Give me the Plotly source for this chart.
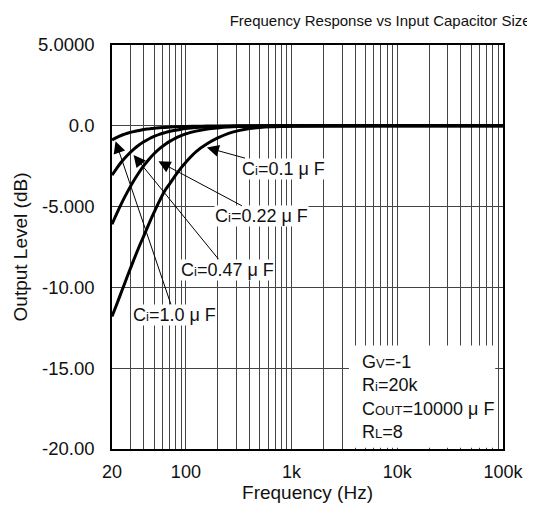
import math
import plotly.graph_objects as go

# Frequencies (Hz) at which the curves were read
freq = [20, 22, 25, 28, 32, 36, 40, 45, 50, 56, 63, 71, 80, 90, 100, 125, 160,
        200, 250, 315, 400, 500, 630, 800, 1000, 2000, 10000, 100000]

# Output level (dB) for each input capacitor
ci_1_0 = [-0.87, -0.73, -0.57, -0.46, -0.36, -0.29, -0.23, -0.19, -0.15, -0.12,
          -0.10, -0.08, -0.06, -0.05, -0.04, -0.03, -0.02, -0.01, -0.01, 0.0,
          0.0, 0.0, 0.0, 0.0, 0.0, 0.0, 0.0, 0.0]
ci_0_47 = [-3.05, -2.66, -2.18, -1.82, -1.46, -1.19, -0.99, -0.80, -0.66, -0.53,
           -0.43, -0.34, -0.27, -0.21, -0.17, -0.11, -0.07, -0.04, -0.03, -0.02,
           -0.01, -0.01, 0.0, 0.0, 0.0, 0.0, 0.0, 0.0]
ci_0_22 = [-6.09, -5.48, -4.71, -4.09, -3.42, -2.89, -2.47, -2.05, -1.73, -1.43,
           -1.17, -0.95, -0.76, -0.61, -0.50, -0.33, -0.20, -0.13, -0.08, -0.05,
           -0.03, -0.02, -0.01, -0.01, 0.0, 0.0, 0.0, 0.0]
ci_0_1 = [-11.8, -11.1, -10.15, -9.3, -8.33, -7.5, -6.81, -6.02, -5.36, -4.68,
          -4.04, -3.55, -3.05, -2.6, -2.25, -1.6, -1.1, -0.75, -0.48, -0.30,
          -0.17, -0.10, -0.06, -0.04, -0.03, -0.01, 0.0, 0.0]

series = [ci_1_0, ci_0_47, ci_0_22, ci_0_1]

# Curve labels: text, arrow tip (Hz, dB), label position (Hz, dB)
cap_labels = ["0.1", "0.22", "0.47", "1.0"]
tip_freq = [158, 55, 32, 21.6]
tip_db = [-1.35, -2.2, -1.8, -0.95]
lab_freq = [830, 520, 245, 78]
lab_db = [-2.65, -5.6, -8.9, -11.7]

x_tickvals = [20, 30, 40, 50, 60, 70, 80, 90,
              100, 200, 300, 400, 500, 600, 700, 800, 900,
              1000, 2000, 3000, 4000, 5000, 6000, 7000, 8000, 9000,
              10000, 20000, 30000, 40000, 50000, 60000, 70000, 80000, 90000,
              100000]
x_labels = {20: "20", 100: "100", 1000: "1k", 10000: "10k", 100000: "100k"}
x_ticktext = [x_labels.get(v, "") for v in x_tickvals]

y_tickvals = [5, 0, -5, -10, -15, -20]
y_ticktext = ["5.0000", "0.0", "-5.000", "-10.00", "-15.00", "-20.00"]

FONT = "Liberation Sans, Arial, sans-serif"
sm = "<span style='font-size:13px'>{}</span>"

fig = go.Figure()
for s in series:
    fig.add_trace(go.Scatter(x=freq, y=s, mode="lines",
                             line=dict(color="black", width=3, shape="spline"),
                             showlegend=False, hoverinfo="skip"))

fig.update_layout(
    width=535, height=508,
    margin=dict(l=101, r=40, t=37, b=67),
    paper_bgcolor="white", plot_bgcolor="white",
    font=dict(family=FONT, size=19, color="#111"),
    title=dict(text="Frequency Response vs Input Capacitor Size", x=0.977, xanchor="right",
               y=0.975, yanchor="middle", font=dict(size=15, color="#111")),
    xaxis=dict(type="log", range=[math.log10(20), 5.0], tickvals=x_tickvals, ticktext=x_ticktext,
               showgrid=True, gridcolor="#444", gridwidth=1, showline=True, linecolor="black",
               linewidth=1.5, mirror=True, ticks="", zeroline=False, ticklabelstandoff=6,
               title=dict(text="Frequency (Hz)", standoff=4, font=dict(size=19)),
               tickfont=dict(size=18)),
    yaxis=dict(range=[-20, 5], tickvals=y_tickvals, ticktext=y_ticktext,
               showgrid=True, gridcolor="#444", gridwidth=1, showline=True, linecolor="black",
               linewidth=1.5, mirror=True, ticks="", zeroline=False, ticklabelstandoff=12,
               title=dict(text="Output Level (dB)", standoff=5, font=dict(size=19)),
               tickfont=dict(size=18.5)),
)

# white box behind the circuit conditions text (hides the grid there)
fig.add_shape(type="rect", xref="paper", yref="paper", x0=0.606, x1=0.98, y0=0.003, y1=0.256,
              fillcolor="white", line=dict(width=0), layer="above")

for lab, tf, td, lf, ld in zip(cap_labels, tip_freq, tip_db, lab_freq, lab_db):
    fig.add_annotation(
        x=math.log10(tf), y=td, xref="x", yref="y",
        ax=math.log10(lf), ay=ld, axref="x", ayref="y",
        text="C" + sm.format("i") + "=" + lab + " \u03bc F",
        showarrow=True, arrowhead=2, arrowsize=2.4, arrowwidth=1, arrowcolor="black",
        bgcolor="white", borderpad=0, font=dict(size=18, color="#111"))

fig.add_annotation(
    x=0.634, y=0.012, xref="paper", yref="paper", xanchor="left", yanchor="bottom", align="left",
    showarrow=False, font=dict(size=18, color="#111"),
    text=("G" + sm.format("V") + "=-1<br>R" + sm.format("i") + "=20k<br>C" + sm.format("OUT") +
          "=10000 \u03bc F<br>R" + sm.format("L") + "=8"))

fig.write_html("out.html")
